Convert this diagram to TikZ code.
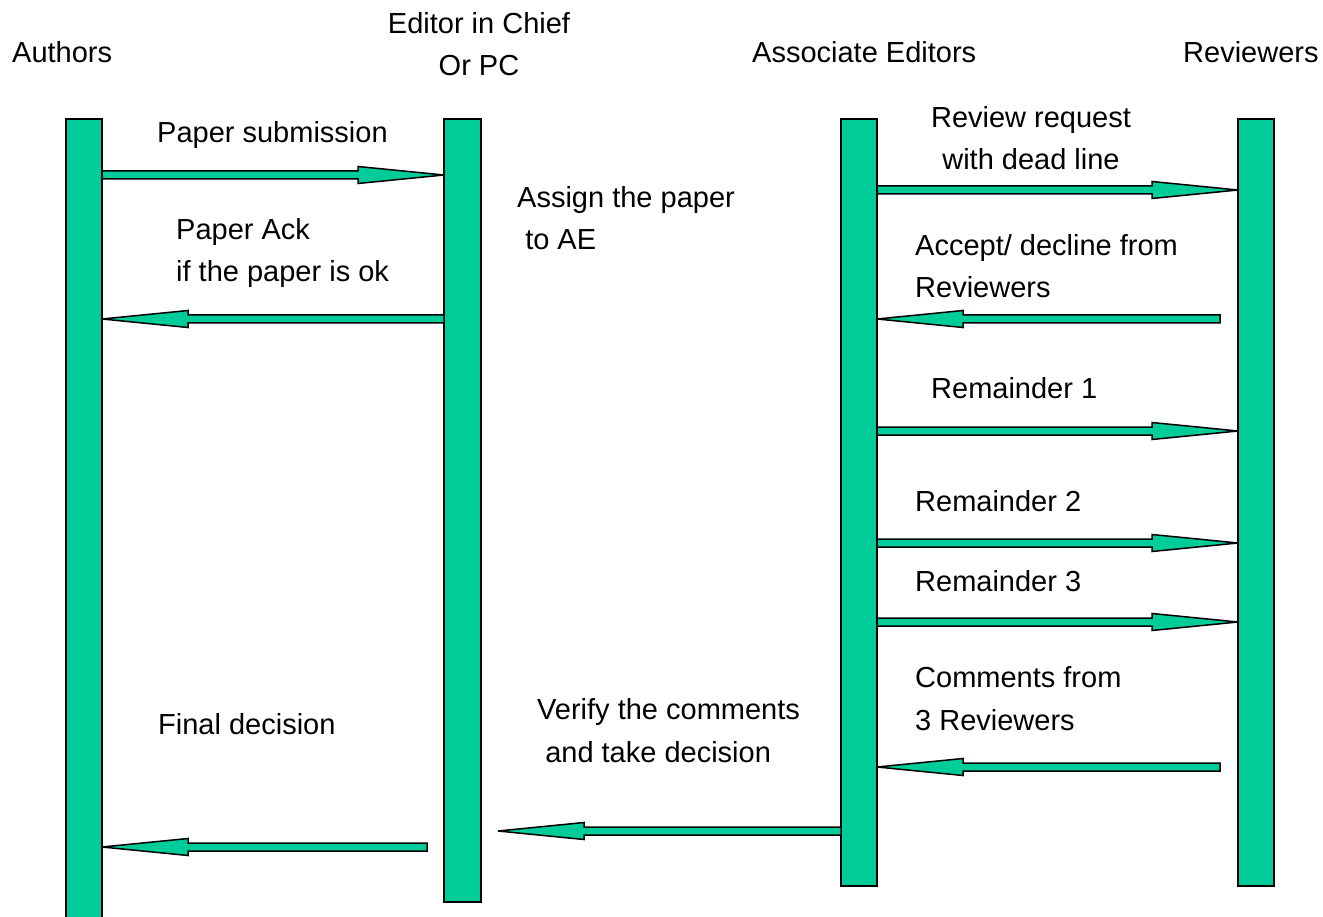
\documentclass[tikz,border=0pt]{standalone}
\usepackage{fontspec}
\setmainfont{Liberation Sans}
\usetikzlibrary{calc}
\definecolor{bargreen}{RGB}{0,204,153}
\tikzset{
  bar/.style={draw=black, line width=1.5pt, fill=bargreen, minimum width=36pt, inner sep=0pt, outer sep=0pt},
  lbl/.style={inner sep=0pt, font=\fontsize{29}{42.5}\selectfont, align=left},
  fatR/.style={draw=black, line width=1.5pt, fill=bargreen, line join=miter,
    to path={let \p1=(\tikztostart), \p2=(\tikztotarget) in
      (\x1,\y1+4pt) -- (\x2-86pt,\y1+4pt) -- (\x2-86pt,\y1+8.5pt) -- (\x2,\y1)
      -- (\x2-86pt,\y1-8.5pt) -- (\x2-86pt,\y1-4pt) -- (\x1,\y1-4pt) -- cycle}},
  fatL/.style={draw=black, line width=1.5pt, fill=bargreen, line join=miter,
    to path={let \p1=(\tikztostart), \p2=(\tikztotarget) in
      (\x1,\y1+4pt) -- (\x2+86pt,\y1+4pt) -- (\x2+86pt,\y1+8.5pt) -- (\x2,\y1)
      -- (\x2+86pt,\y1-8.5pt) -- (\x2+86pt,\y1-4pt) -- (\x1,\y1-4pt) -- cycle}}
}
\begin{document}
\begin{tikzpicture}[x=1pt,y=-1pt]
\useasboundingbox (0,0) rectangle (1323,917);
% lifelines
\node[bar, minimum height=806pt] (auth) at (84,522) {};
\node[bar, minimum width=37pt, minimum height=783pt] (ed) at (462.5,510.5) {};
\node[bar, minimum height=767pt] (ae) at (859,502.5) {};
\node[bar, minimum height=767pt] (rev) at (1256,502.5) {};
% headers
\node[lbl, anchor=base west] (hA) at (12,63) {Authors};
\node[lbl, anchor=base, align=center] (hE) at (479,76) {Editor in Chief\\Or PC};
\node[lbl, anchor=base west] (hAE) at (752,63) {Associate Editors};
\node[lbl, anchor=base west] (hR) at (1183,63) {Reviewers};
% free ends
\coordinate (f4) at (1220,319);
\coordinate (f8) at (1220,767);
\coordinate (f9) at (498,831);
\coordinate (f10) at (427,847);
% messages
\draw[fatR] (auth.east |- 0,175) to (ed.west |- 0,175);
\draw[fatL] (ed.west |- 0,319) to (auth.east |- 0,319);
\draw[fatR] (ae.east |- 0,190) to (rev.west |- 0,190);
\draw[fatL] (f4) to (ae.east |- f4);
\draw[fatR] (ae.east |- 0,431) to (rev.west |- 0,431);
\draw[fatR] (ae.east |- 0,543) to (rev.west |- 0,543);
\draw[fatR] (ae.east |- 0,622) to (rev.west |- 0,622);
\draw[fatL] (f8) to (ae.east |- f8);
\draw[fatL] (ae.west |- f9) to (f9);
\draw[fatL] (f10) to (auth.east |- f10);
% labels
\node[lbl, anchor=base west] (t1) at (157,143) {Paper submission};
\node[lbl, anchor=base west] (t2) at (517,250) {Assign the paper\\\ to AE};
\node[lbl, anchor=base west] (t3) at (176,282) {Paper Ack\\if the paper is ok};
\node[lbl, anchor=base, align=center] (t4) at (1031,170) {Review request\\with dead line};
\node[lbl, anchor=base west] (t5) at (915,298) {Accept/ decline from\\Reviewers};
\node[lbl, anchor=base west] (t6) at (931,399) {Remainder 1};
\node[lbl, anchor=base west] (t7) at (915,511) {Remainder 2};
\node[lbl, anchor=base west] (t8) at (915,591) {Remainder 3};
\node[lbl, anchor=base west] (t9) at (915,730) {Comments from\\3 Reviewers};
\node[lbl, anchor=base west] (t10) at (158,734) {Final decision};
\node[lbl, anchor=base west] (t11) at (537,762) {Verify the comments\\\ and take decision};
\end{tikzpicture}
\end{document}
